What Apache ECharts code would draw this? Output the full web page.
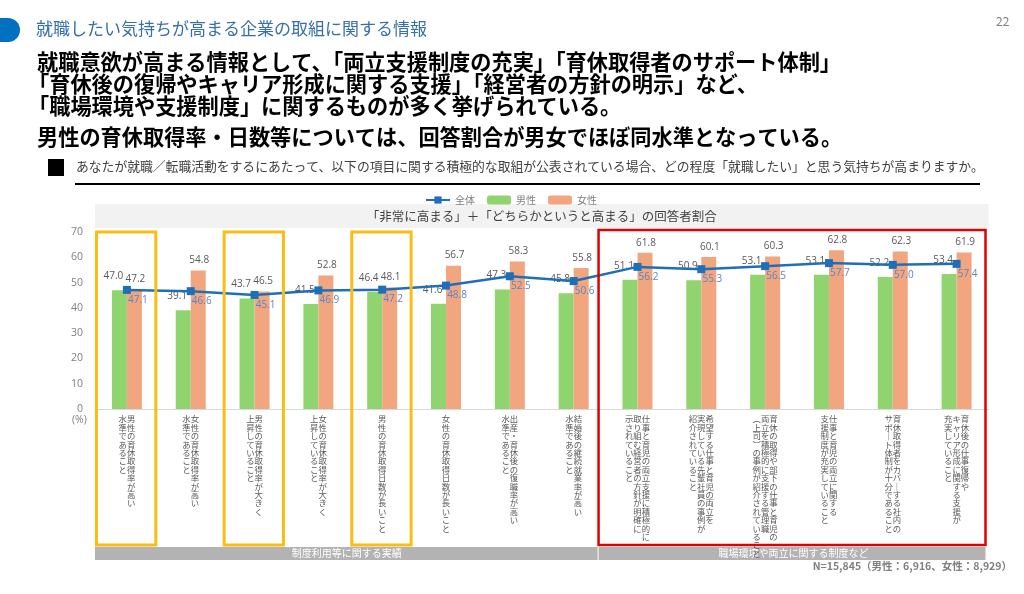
<!DOCTYPE html>
<html>
<head>
<meta charset="utf-8">
<script src="https://cdn.jsdelivr.net/npm/echarts@6/dist/echarts.min.js"></script>
<style>
  html, body { margin: 0; padding: 0; background: #fff; }
  #main { width: 1024px; height: 594px; }
</style>
</head>
<body>
<div id="main"></div>
<script>
// 項目（改行＝縦書きの列の区切り）
var categories = [
    '男性の育休取得率が高い\n水準であること',
    '女性の育休取得率が高い\n水準であること',
    '男性の育休取得率が大きく\n上昇していること',
    '女性の育休取得率が大きく\n上昇していること',
    '男性の育休取得日数が長いこと',
    '女性の育休取得日数が長いこと',
    '出産・育休後の復職率が高い\n水準であること',
    '結婚後の継続就業率が高い\n水準であること',
    '仕事と育児の両立支援に積極的に\n取り組む経営者の方針が明確に\n示されていること',
    '希望する仕事と育児の両立を\n実現している先輩社員の事例が\n紹介されていること',
    '育休の取得や部下の仕事と育児の\n両立を積極的に支援する管理職\n（上司）の事例が紹介されていること',
    '仕事と育児の両立に関する\n支援制度が充実していること',
    '育休取得者をカバーする社内の\nサポート体制が十分であること',
    '育休後の仕事復帰や\nキャリア形成に関する支援が\n充実していること'
];
var totalData = [47.1, 46.6, 45.1, 46.9, 47.2, 48.8, 52.5, 50.6, 56.2, 55.3, 56.5, 57.7, 57.0, 57.4];
var maleData = [47.0, 39.1, 43.7, 41.5, 46.4, 41.6, 47.3, 45.8, 51.1, 50.9, 53.1, 53.1, 52.2, 53.4];
var femaleData = [47.2, 54.8, 46.5, 52.8, 48.1, 56.7, 58.3, 55.8, 61.8, 60.1, 60.3, 62.8, 62.3, 61.9];
var yellowBoxes = [0, 2, 4];       // 黄色枠の項目
var groups = [
    { name: '制度利用等に関する実績', from: 0, to: 7 },
    { name: '職場環境や両立に関する制度など', from: 8, to: 13 }
];

var FONT = '"Noto Sans CJK JP", "Noto Sans", sans-serif';
var NUM_FONT = '"Open Sans", sans-serif';

//縦書きに変換
function toVertical(name) {
    var cols = name.split('\n').map(function (s) {
        return Array.from(s.replace(/ー/g, '｜').replace(/（/g, '︵').replace(/）/g, '︶'));
    });
    var rows = Math.max.apply(null, cols.map(function (c) { return c.length; }));
    var out = [];
    for (var i = 0; i < rows; i++) {
        var row = '';
        for (var j = cols.length - 1; j >= 0; j--) {
            row += cols[j][i] || '　';
        }
        out.push(row);
    }
    return out.join('\n');
}

function oneDecimal(p) { return p.value.toFixed(1); }

var chart = echarts.init(document.getElementById('main'));
chart.setOption({
    animation: false,
    textStyle: { fontFamily: FONT },
    legend: {
        top: 190,
        left: 420,
        itemWidth: 24,
        itemHeight: 9,
        itemGap: 12,
        textStyle: { fontSize: 10, color: '#7f7f7f' },
        data: ['全体', '男性', '女性']
    },
    grid: { left: 95, right: 35.5, top: 232, bottom: 185 },
    xAxis: {
        type: 'category',
        data: categories,
        axisLine: { lineStyle: { color: '#d9d9d9' } },
        axisTick: { show: false },
        axisLabel: {
            interval: 0,
            margin: 6,
            fontSize: 8.4,
            lineHeight: 8.4,
            color: '#595959',
            verticalAlign: 'top',
            formatter: toVertical
        }
    },
    yAxis: {
        type: 'value',
        min: 0,
        max: 70,
        interval: 10,
        axisLine: { show: false },
        axisTick: { show: false },
        splitLine: { show: false },
        axisLabel: { fontSize: 10.5, color: '#7f7f7f', margin: 12, fontFamily: NUM_FONT }
    },
    series: [
        {
            name: '男性',
            type: 'bar',
            data: maleData,
            barWidth: 15,
            barGap: '0%',
            itemStyle: { color: '#8fd46e' },
            label: {
                show: true, position: 'top', distance: 9, offset: [-6, 0],
                fontSize: 10, color: '#595959', fontFamily: NUM_FONT,
                formatter: oneDecimal
            }
        },
        {
            name: '女性',
            type: 'bar',
            data: femaleData,
            barWidth: 15,
            itemStyle: { color: '#f2a67f' },
            label: {
                show: true, position: 'top', distance: 5, offset: [1, 0],
                fontSize: 10, color: '#595959', fontFamily: NUM_FONT,
                formatter: oneDecimal
            }
        },
        {
            name: '全体',
            type: 'line',
            data: totalData,
            symbol: 'rect',
            symbolSize: 8,
            z: 5,
            lineStyle: { color: '#1f6fb8', width: 2.5 },
            itemStyle: { color: '#1f6fb8' },
            label: {
                show: true, position: 'bottom', distance: 1, offset: [11, 0],
                fontSize: 10, color: '#5b86c4', fontFamily: NUM_FONT,
                formatter: oneDecimal
            }
        }
    ]
});

// 枠・帯など（軸の位置から計算）
var c0 = chart.convertToPixel({ xAxisIndex: 0 }, categories[0]);
var c1 = chart.convertToPixel({ xAxisIndex: 0 }, categories[1]);
var band = c1 - c0;
function bandLeft(i) { return chart.convertToPixel({ xAxisIndex: 0 }, categories[i]) - band / 2; }
var plotTop = chart.convertToPixel({ yAxisIndex: 0 }, 70);
var boxBottom = 545;

var graphics = [
    // 見出し
    { type: 'rect', shape: { x: -12, y: 18, width: 32, height: 24, r: 12 }, style: { fill: '#0070c0' } },
    { type: 'text', left: 36, top: 20, style: { text: '就職したい気持ちが高まる企業の取組に関する情報', fontSize: 17, fill: '#3570ac', fontFamily: FONT } },
    { type: 'text', left: 996, top: 15, style: { text: '22', fontSize: 12, fill: '#7f7f7f', fontFamily: FONT } },
    { type: 'text', left: 37, top: 51, style: { text: '就職意欲が高まる情報として、「両立支援制度の充実」「育休取得者のサポート体制」', fontSize: 21.2, fontWeight: 'bold', fill: '#000', fontFamily: FONT } },
    { type: 'text', left: 28, top: 73, style: { text: '「育休後の復帰やキャリア形成に関する支援」「経営者の方針の明示」など、', fontSize: 21.2, fontWeight: 'bold', fill: '#000', fontFamily: FONT } },
    { type: 'text', left: 28, top: 95, style: { text: '「職場環境や支援制度」に関するものが多く挙げられている。', fontSize: 21.2, fontWeight: 'bold', fill: '#000', fontFamily: FONT } },
    { type: 'text', left: 37, top: 126, style: { text: '男性の育休取得率・日数等については、回答割合が男女でほぼ同水準となっている。', fontSize: 21.2, fontWeight: 'bold', fill: '#000', fontFamily: FONT } },
    { type: 'rect', shape: { x: 48, y: 159, width: 16, height: 17 }, style: { fill: '#000' } },
    { type: 'text', left: 76, top: 160, style: { text: 'あなたが就職／転職活動をするにあたって、以下の項目に関する積極的な取組が公表されている場合、どの程度「就職したい」と思う気持ちが高まりますか。', fontSize: 12.8, fill: '#404040', fontFamily: FONT } },
    { type: 'rect', shape: { x: 75, y: 183, width: 905, height: 2 }, style: { fill: '#000' } },
    // グラフ見出し帯
    { type: 'rect', shape: { x: bandLeft(0), y: 204, width: bandLeft(13) + band - bandLeft(0), height: 24 }, style: { fill: '#f2f2f2' } },
    { type: 'text', x: (bandLeft(0) + bandLeft(13) + band) / 2, y: 216, style: { text: '「非常に高まる」＋「どちらかというと高まる」の回答者割合', fontSize: 12.5, fill: '#404040', align: 'center', verticalAlign: 'middle', fontFamily: FONT } },
    { type: 'text', left: 72, top: 415, style: { text: '(%)', fontSize: 10.5, fill: '#7f7f7f', fontFamily: NUM_FONT } },
    { type: 'text', right: 12, top: 561, style: { text: 'N=15,845（男性：6,916、女性：8,929）', fontSize: 10.5, fontWeight: 'bold', fill: '#7f7f7f', fontFamily: FONT } }
];

// 下部の分類帯
var split = bandLeft(groups[1].from) - 7;
graphics.push({ type: 'rect', shape: { x: bandLeft(groups[0].from), y: 547, width: split - 1 - bandLeft(groups[0].from), height: 13 }, style: { fill: '#b3b3b3' } });
graphics.push({ type: 'rect', shape: { x: split, y: 547, width: bandLeft(groups[1].to) + band - 3 - split, height: 13 }, style: { fill: '#b3b3b3' } });
graphics.push({ type: 'text', x: (bandLeft(groups[0].from) + split) / 2, y: 553.5, style: { text: groups[0].name, fontSize: 10, fill: '#fff', align: 'center', verticalAlign: 'middle', fontFamily: FONT } });
graphics.push({ type: 'text', x: (split + bandLeft(groups[1].to) + band) / 2, y: 553.5, style: { text: groups[1].name, fontSize: 10, fill: '#fff', align: 'center', verticalAlign: 'middle', fontFamily: FONT } });

// 黄色枠
yellowBoxes.forEach(function (i) {
    var x = bandLeft(i) + 1.5;
    graphics.push({ type: 'rect', z: 10, shape: { x: x, y: plotTop, width: band - 4.5, height: boxBottom - plotTop }, style: { fill: 'none', stroke: '#fbbd13', lineWidth: 3 } });
});
// 赤枠
graphics.push({ type: 'rect', z: 10, shape: { x: split, y: plotTop - 2, width: bandLeft(13) + band - 3 - split, height: boxBottom - plotTop + 2 }, style: { fill: 'none', stroke: '#e00000', lineWidth: 2.5 } });

chart.setOption({ graphic: graphics });
</script>
</body>
</html>
